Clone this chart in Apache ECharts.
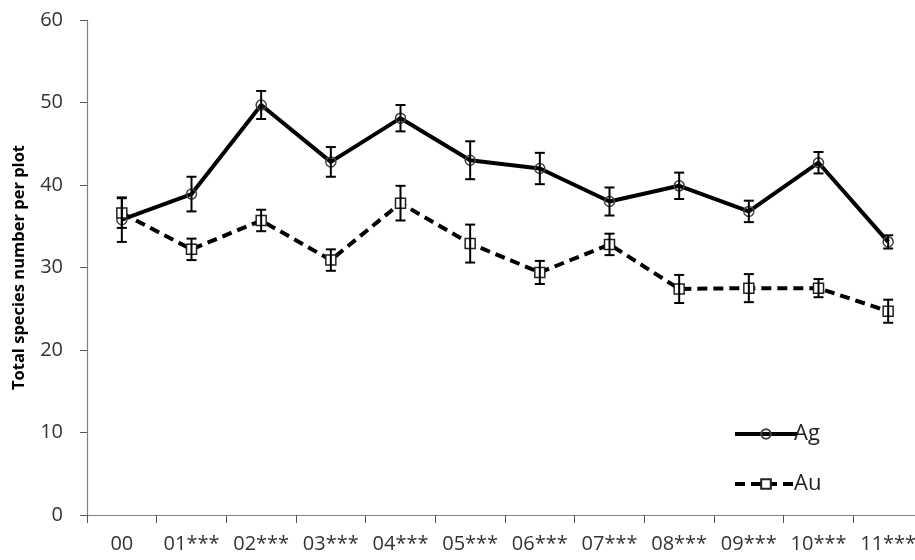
<!DOCTYPE html>
<html>
<head>
<meta charset="utf-8">
<script src="https://cdn.jsdelivr.net/npm/echarts@6/dist/echarts.min.js"></script>
<style>html,body{margin:0;padding:0;background:#fff}#c{width:915px;height:560px}</style>
</head>
<body>
<div id="c"></div>
<script>
var categories = ['00','01***','02***','03***','04***','05***','06***','07***','08***','09***','10***','11***'];
var agValues = [35.8, 38.9, 49.7, 42.8, 48.1, 43.0, 42.0, 38.0, 39.9, 36.8, 42.7, 33.1];
var agErrors = [2.7, 2.1, 1.7, 1.8, 1.6, 2.3, 1.9, 1.7, 1.6, 1.3, 1.3, 0.8];
var auValues = [36.6, 32.2, 35.7, 30.9, 37.8, 32.9, 29.4, 32.8, 27.4, 27.5, 27.5, 24.7];
var auErrors = [1.8, 1.3, 1.3, 1.3, 2.1, 2.3, 1.4, 1.3, 1.7, 1.7, 1.1, 1.4];
var yTicks = [0, 10, 20, 30, 40, 50, 60];

var FONT = '"Open Sans", Lato, sans-serif';

function errData(vals, errs) {
  return vals.map(function (v, i) { return [i, v - errs[i], v + errs[i]]; });
}
function errRender(params, api) {
  var x = api.value(0);
  var lo = api.coord([x, api.value(1)]);
  var hi = api.coord([x, api.value(2)]);
  var hw = 5;
  var st = { stroke: '#000', lineWidth: 2 };
  return {
    type: 'group',
    children: [
      { type: 'line', shape: { x1: lo[0], y1: lo[1], x2: hi[0], y2: hi[1] }, style: st },
      { type: 'line', shape: { x1: lo[0] - hw, y1: lo[1], x2: lo[0] + hw, y2: lo[1] }, style: st },
      { type: 'line', shape: { x1: hi[0] - hw, y1: hi[1], x2: hi[0] + hw, y2: hi[1] }, style: st }
    ]
  };
}

var chart = echarts.init(document.getElementById('c'), null, { renderer: 'canvas' });
chart.setOption({
  animation: false,
  backgroundColor: '#fff',
  grid: { left: 87, right: -8, top: 20, bottom: 45, containLabel: false, outerBoundsMode: 'none' },
  legend: {
    data: ['Ag', 'Au'],
    orient: 'vertical',
    left: 728,
    top: 418,
    itemWidth: 62,
    itemHeight: 12,
    itemGap: 28,
    lineStyle: { width: 4 },
    textStyle: { fontFamily: FONT, fontSize: 22, color: '#222', padding: [0, 0, 0, -8] }
  },
  xAxis: {
    type: 'category',
    data: categories,
    boundaryGap: true,
    axisLine: { lineStyle: { color: '#808080', width: 1.2 } },
    axisTick: { show: true, length: 8, inside: false, alignWithLabel: false, lineStyle: { color: '#555' } },
    axisLabel: { fontFamily: FONT, fontSize: 20, color: '#333', margin: 19, interval: 0 },
    splitLine: { show: false }
  },
  yAxis: {
    type: 'value',
    min: yTicks[0],
    max: yTicks[yTicks.length - 1],
    interval: 10,
    name: 'Total species number per plot',
    nameLocation: 'middle',
    nameGap: 59,
    nameRotate: 90,
    nameTextStyle: { fontFamily: FONT, fontSize: 16.5, fontWeight: 'bold', color: '#000' },
    axisLine: { show: true, lineStyle: { color: '#808080', width: 1.2 } },
    axisTick: { show: true, length: 7, lineStyle: { color: '#555' } },
    axisLabel: { fontFamily: FONT, fontSize: 20, color: '#333', margin: 24 },
    splitLine: { show: false }
  },
  series: [
    {
      name: 'Ag', type: 'line', data: agValues,
      symbol: 'circle', symbolSize: 10,
      lineStyle: { color: '#000', width: 4 },
      itemStyle: { color: 'rgba(255,255,255,0)', borderColor: '#444', borderWidth: 1.5 },
      z: 3
    },
    {
      name: 'Au', type: 'line', data: auValues,
      symbol: 'rect', symbolSize: 10,
      lineStyle: { color: '#000', width: 4, type: [10, 6] },
      itemStyle: { color: '#fff', borderColor: '#222', borderWidth: 1.5 },
      z: 3
    },
    {
      name: 'AgErr', type: 'custom', renderItem: errRender, data: errData(agValues, agErrors),
      encode: { x: 0, y: [1, 2] }, z: 4, silent: true
    },
    {
      name: 'AuErr', type: 'custom', renderItem: errRender, data: errData(auValues, auErrors),
      encode: { x: 0, y: [1, 2] }, z: 4, silent: true
    }
  ]
});
</script>
</body>
</html>
